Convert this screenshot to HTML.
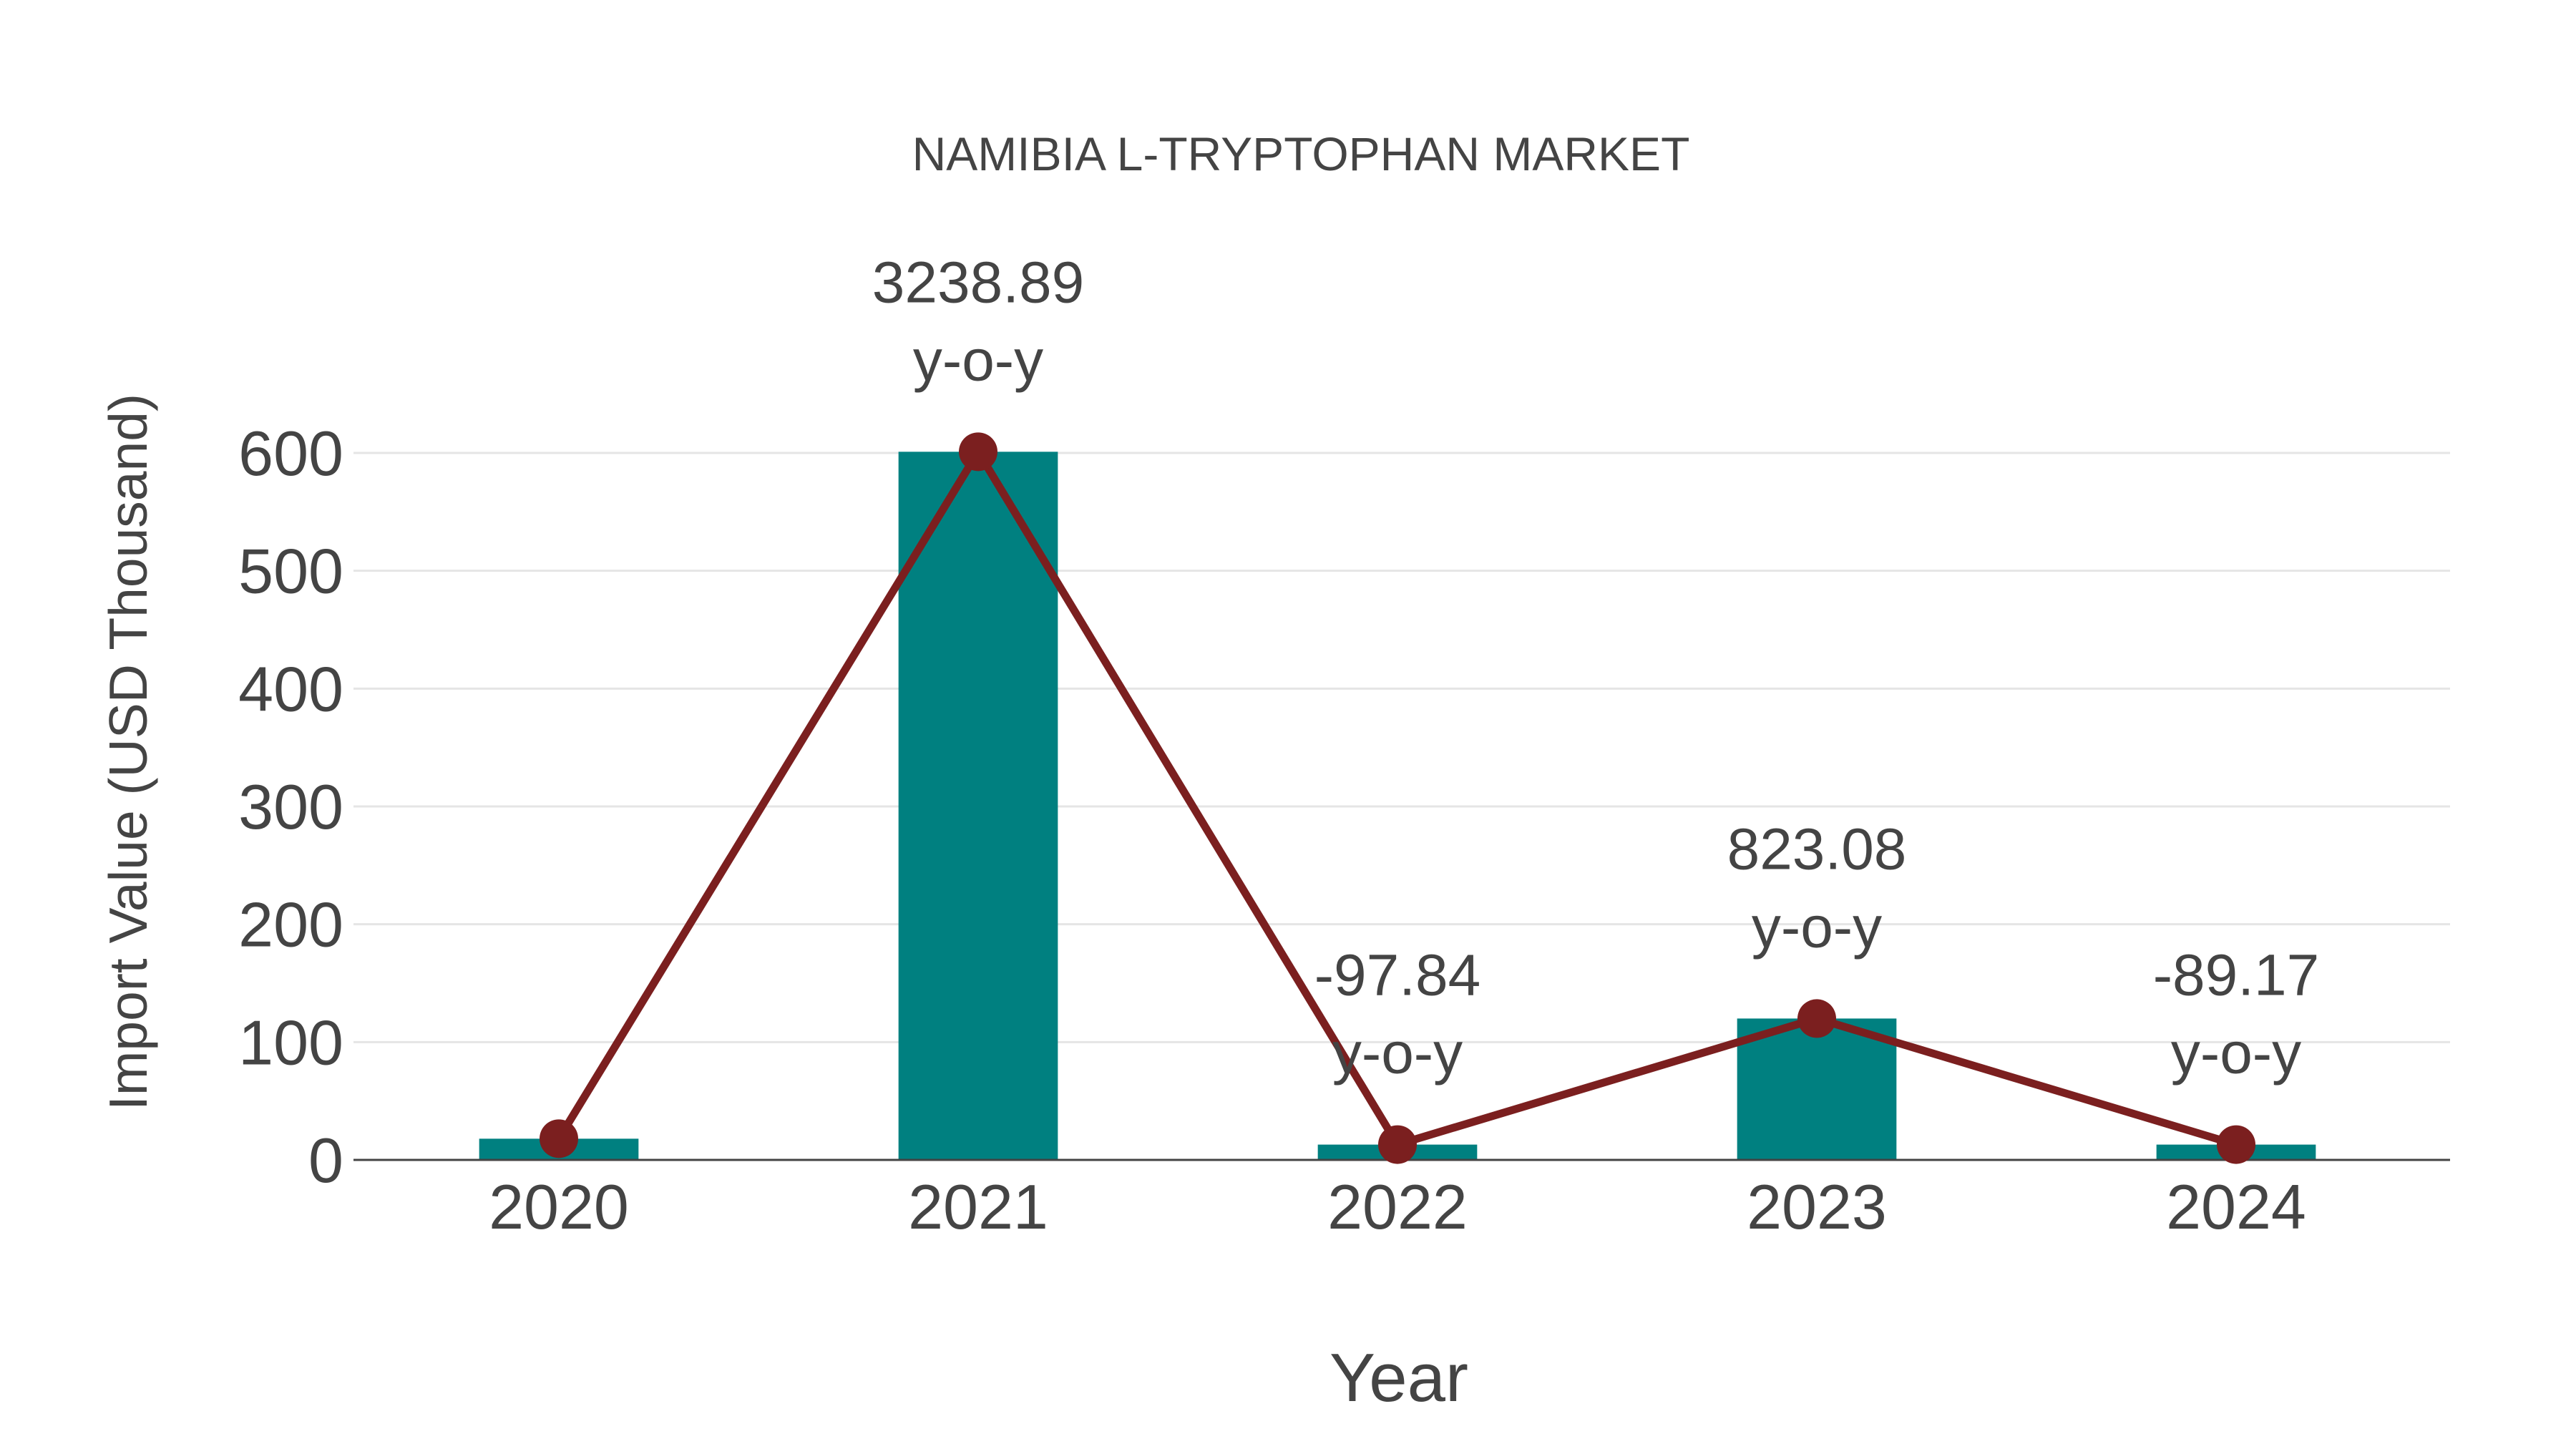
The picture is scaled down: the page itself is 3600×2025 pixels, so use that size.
<!DOCTYPE html>
<html><head><meta charset="utf-8"><style>
html,body{margin:0;padding:0;background:#fff;}
svg{display:block;font-family:"Liberation Sans",sans-serif;}
</style></head><body>
<svg id="chart" width="3600" height="2025" viewBox="0 0 3600 2025" xmlns="http://www.w3.org/2000/svg">
<rect width="3600" height="2025" fill="#fff"/>
<text x="1818" y="238" text-anchor="middle" font-size="66" fill="#444">NAMIBIA L-TRYPTOPHAN MARKET</text>
<g id="grid"></g>
<g id="bars"></g>
<line x1="494" x2="3424" y1="1621" y2="1621" stroke="#444" stroke-width="3"/>
<g id="line"></g>
<g id="labels"></g>
<g id="yticks"></g>
<g id="xticks"></g>
<text transform="translate(205,1051) rotate(-90)" text-anchor="middle" font-size="75" fill="#444">Import Value (USD Thousand)</text>
<text x="1955" y="1958" text-anchor="middle" font-size="96" fill="#444">Year</text>
</svg>
<script>
const categories = ["2020","2021","2022","2023","2024"];
const values = [18, 601, 13, 120, 13];
const yoyLabels = ["", "3238.89", "-97.84", "823.08", "-89.17"];
const yTicks = [0,100,200,300,400,500,600];

const NS="http://www.w3.org/2000/svg";
const left=494, right=3424, y0=1621, yTop=633, yMaxVal=600;
const band=(right-left)/categories.length;
function xScale(i){return left+band*(i+0.5)-6;}
function yScale(v){return y0-(v/yMaxVal)*(y0-yTop);}
function mk(tag,attrs,parent){const e=document.createElementNS(NS,tag);for(const k in attrs)e.setAttribute(k,attrs[k]);parent.appendChild(e);return e;}

const grid=document.getElementById('grid'), yt=document.getElementById('yticks');
yTicks.forEach(t=>{
  if(t>0){
    const g=mk('line',{x1:left,x2:right,y1:yScale(t),y2:yScale(t),stroke:'#e5e5e5','stroke-width':3},grid);
    
    
  }
  const tx=mk('text',{x:480,y:yScale(t)+31,'text-anchor':'end','font-size':88,fill:'#444'},yt);
  tx.textContent=t;
  
  
});

const bars=document.getElementById('bars'), xt=document.getElementById('xticks');
const bw=band*0.38;
categories.forEach((c,i)=>{
  const r=mk('rect',{x:xScale(i)-bw/2,y:yScale(values[i]),width:bw,height:y0-yScale(values[i]),fill:'#008080'},bars);
  
  
  const t=mk('text',{x:xScale(i),y:1717,'text-anchor':'middle','font-size':88,fill:'#444'},xt);
  t.textContent=c;
  
  
});

const lg=document.getElementById('line');
const pts=categories.map((c,i)=>xScale(i)+','+yScale(values[i])).join(' ');
const pl=mk('polyline',{points:pts,fill:'none',stroke:'#7b1f1f','stroke-width':11,'stroke-linejoin':'round'},lg);


categories.forEach((c,i)=>{
  const m=mk('circle',{cx:xScale(i),cy:yScale(values[i]),r:27,fill:'#7b1f1f'},lg);
  
  
});

const lb=document.getElementById('labels');
yoyLabels.forEach((l,i)=>{
  if(!l)return;
  const yb=yScale(values[i])-100;
  const t1=mk('text',{x:xScale(i),y:yb-109,'text-anchor':'middle','font-size':82,fill:'#444'},lb);
  t1.textContent=l;
  
  
  const t2=mk('text',{x:xScale(i),y:yb,'text-anchor':'middle','font-size':82,fill:'#444'},lb);
  t2.textContent='y-o-y';
  
  
});
</script>
</body></html>
